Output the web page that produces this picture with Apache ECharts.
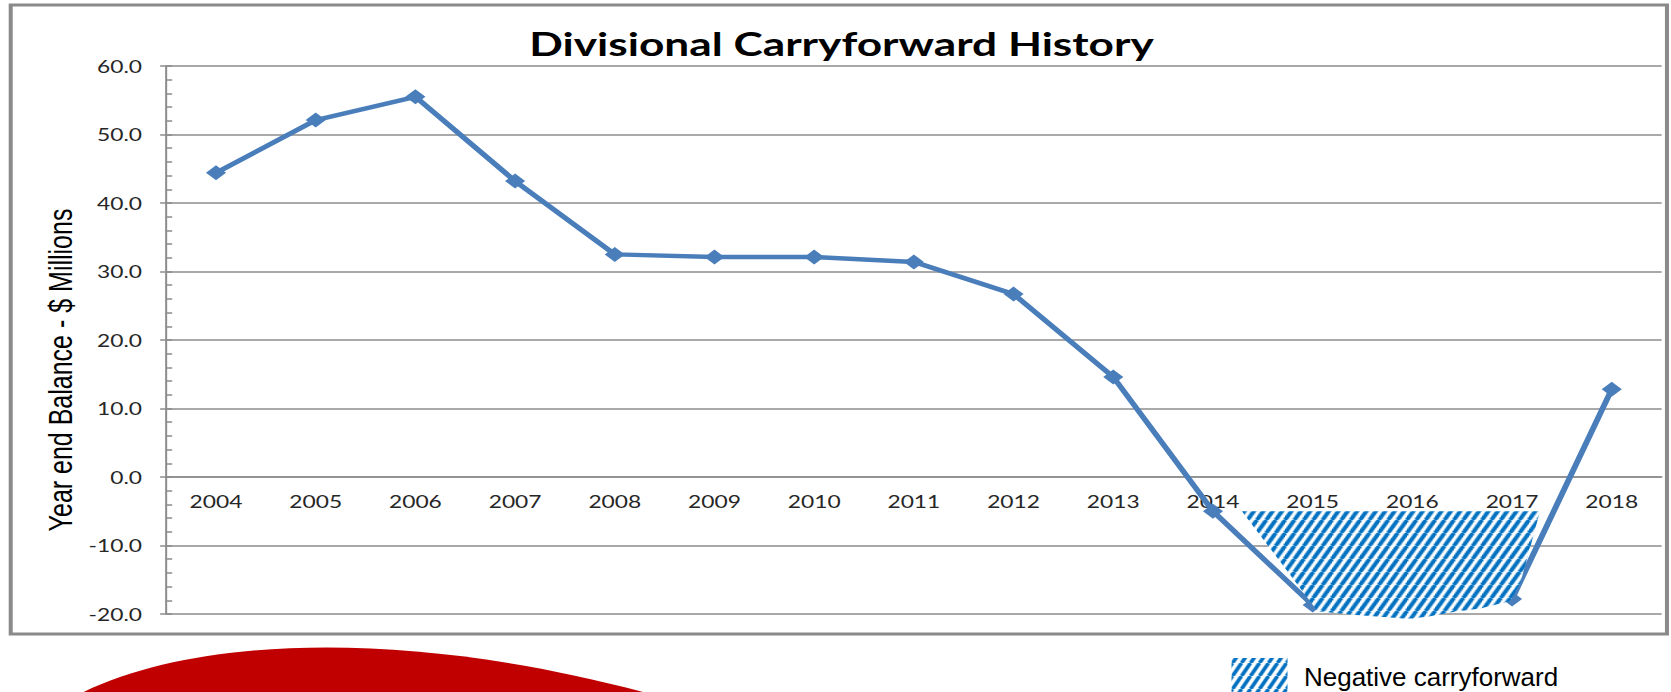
<!DOCTYPE html>
<html>
<head>
<meta charset="utf-8">
<script src="https://cdn.jsdelivr.net/npm/echarts@6.0.0/dist/echarts.min.js"></script>
<style>
html, body { margin: 0; padding: 0; background: #fff; overflow: hidden; }
/* the slide picture is stretched sideways, so lay the chart out narrow and widen it */
#chart { width: 1247px; height: 692px; transform: scaleX(1.34); transform-origin: 0 0; }
</style>
</head>
<body>
<div id="chart"></div>
<script>
var STRETCH = 1.34

var years = ['2004', '2005', '2006', '2007', '2008', '2009', '2010', '2011', '2012', '2013', '2014', '2015', '2016', '2017', '2018']
var balance = [44.4, 52.1, 55.5, 43.2, 32.5, 32.1, 32.1, 31.4, 26.7, 14.6, -5.0, -18.7, -19.6, -17.8, 12.8]
var yTicks = [-20, -10, 0, 10, 20, 30, 40, 50, 60]

// outline of the hatched "negative carryforward" patch, as [category position, value]
var negativeZone = [
  [10.29, -5.0], [13.28, -5.0], [13.18, -10.4], [13.08, -15.6], [12.98, -18.1],
  [12.68, -19.2], [12.41, -19.7], [12.15, -20.4], [11.95, -20.7], [11.68, -20.4],
  [11.40, -20.1], [11.05, -19.6]
]

// blue diagonal hatch on white
function stripes (w, h, lw) {
  var c = document.createElement('canvas')
  c.width = w
  c.height = h
  var ctx = c.getContext('2d')
  ctx.fillStyle = '#ffffff'
  ctx.fillRect(0, 0, w, h)
  ctx.strokeStyle = '#0070C0'
  ctx.lineWidth = lw
  ctx.beginPath()
  for (var k = -1; k <= 1; k++) {
    ctx.moveTo(k * w, h)
    ctx.lineTo(k * w + w, 0)
  }
  ctx.stroke()
  return c
}
// inside the stretched chart the tile is narrower so it comes out 9px wide
var hatchFill = { image: stripes(7, 13, 3.3), repeat: 'repeat' }
var legendFill = { image: stripes(9, 13, 3.8), repeat: 'repeat' }

var gridColor = '#8c8c8c'
var gridTop = 66
var gridBottom = 78
var plotHeight = 692 - gridTop - gridBottom
var yMin = yTicks[0]
var yMax = yTicks[yTicks.length - 1]
// the year labels hang under the 0.0 line
var zeroOffset = -plotHeight * (0 - yMin) / (yMax - yMin)

var chart = echarts.init(document.getElementById('chart'), null, { renderer: 'svg' })
chart.setOption({
  animation: false,
  backgroundColor: '#ffffff',
  title: {
    text: 'Divisional Carryforward History',
    left: 623,
    top: 21,
    textAlign: 'center',
    textStyle: { fontFamily: 'Lato', fontWeight: 'bold', fontSize: 33, color: '#000000' }
  },
  grid: { left: 124, right: 7, top: gridTop, bottom: gridBottom, containLabel: false },
  xAxis: [
    {
      type: 'category',
      data: years,
      boundaryGap: true,
      position: 'bottom',
      offset: zeroOffset,
      axisLine: { onZero: false, lineStyle: { color: gridColor, width: 1.5 } },
      axisTick: { show: false },
      axisLabel: { margin: 16, fontFamily: 'Lato', fontSize: 17, color: '#262626' },
      splitLine: { show: false }
    },
    {
      // hidden linear twin of the category axis, for the hatched patch
      type: 'value',
      min: -0.5,
      max: years.length - 0.5,
      show: false,
      axisLine: { onZero: false }
    }
  ],
  yAxis: [
    {
      type: 'value',
      min: yMin,
      max: yMax,
      interval: 10,
      axisLine: { show: true, onZero: false, lineStyle: { color: gridColor, width: 1.5 } },
      axisTick: { show: true, length: 4.5, lineStyle: { color: gridColor, width: 1.5 } },
      axisLabel: {
        margin: 18,
        fontFamily: 'Lato',
        fontSize: 17,
        color: '#262626',
        formatter: function (v) { return v.toFixed(1) }
      },
      splitLine: { show: true, lineStyle: { color: gridColor, width: 1.5 } }
    },
    {
      // second copy only for the small inner ticks
      type: 'value',
      position: 'left',
      min: yMin,
      max: yMax,
      interval: 10,
      axisLine: { show: false, onZero: false },
      axisTick: { show: true, inside: true, length: 4.5, lineStyle: { color: gridColor, width: 1.5 } },
      minorTick: { show: true, splitNumber: 5, length: 4.5, lineStyle: { color: gridColor, width: 1.5 } },
      axisLabel: { show: false },
      splitLine: { show: false }
    }
  ],
  series: [
    {
      name: 'Balance',
      type: 'line',
      data: balance,
      symbol: 'diamond',
      symbolSize: 15,
      lineStyle: { color: '#4A7EBB', width: 4.5 },
      itemStyle: { color: '#4A7EBB' },
      z: 3
    },
    {
      name: 'Negative carryforward',
      type: 'custom',
      xAxisIndex: 1,
      yAxisIndex: 0,
      data: [[0, 0]],
      clip: false,
      z: 5,
      renderItem: function (params, api) {
        var pts = negativeZone.map(function (p) { return api.coord(p) })
        return {
          type: 'polygon',
          shape: { points: pts },
          style: { fill: hatchFill, stroke: null }
        }
      }
    }
  ],
  graphic: [
    {
      type: 'rect',
      shape: { x: 8, y: 5, width: 1236, height: 629 },
      style: { fill: null, stroke: '#8a8a8a', lineWidth: 3 },
      silent: true
    },
    {
      type: 'text',
      x: 45,
      y: 370,
      rotation: Math.PI / 2,
      style: {
        text: 'Year end Balance - $ Millions',
        font: '25px "Liberation Sans", Arial, sans-serif',
        fill: '#000000',
        align: 'center',
        verticalAlign: 'middle'
      }
    },
    {
      // things outside the picture are not stretched: undo the widening
      type: 'group',
      x: 0,
      y: 0,
      scaleX: 1 / STRETCH,
      children: [
        {
          type: 'bezierCurve',
          shape: { x1: 68, y1: 700, cpx1: 195, cpy1: 630, cpx2: 430, cpy2: 630, x2: 672, y2: 700 },
          style: { fill: '#C00000', stroke: null }
        },
        {
          type: 'rect',
          shape: { x: 1232, y: 658, width: 56, height: 40 },
          style: { fill: legendFill, stroke: null }
        },
        {
          type: 'text',
          x: 1304,
          y: 677,
          style: {
            text: 'Negative carryforward',
            font: '26px "Liberation Sans", Arial, sans-serif',
            fill: '#000000',
            align: 'left',
            verticalAlign: 'middle'
          }
        }
      ]
    }
  ]
})
</script>
</body>
</html>
